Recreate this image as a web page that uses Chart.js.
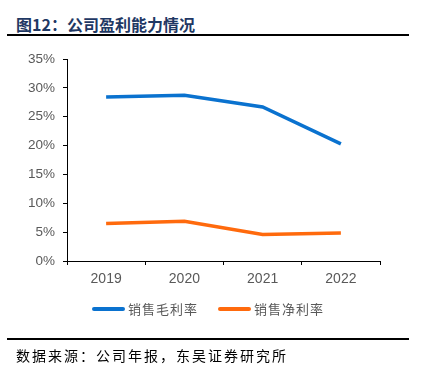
<!DOCTYPE html>
<html>
<head>
<meta charset="utf-8">
<script src="https://cdn.jsdelivr.net/npm/chart.js@4/dist/chart.umd.min.js"></script>
<style>
  html, body { margin: 0; padding: 0; background: #fff; }
  #wrap { position: relative; width: 428px; height: 374px; overflow: hidden; }
  #c { position: absolute; left: 0; top: 0; }
  .title { position: absolute; left: 16px; top: 12px; font: bold 16px "Noto Sans CJK SC", sans-serif; color: #1f3864; line-height: 24px; white-space: nowrap; }
  .rule { position: absolute; left: 7px; width: 402px; background: #000; }
  .legend { position: absolute; top: 299px; font: 13px "Noto Sans CJK SC", sans-serif; color: #595959; letter-spacing: 1px; line-height: 20px; white-space: nowrap; }
  .legend span.sw { display: inline-block; width: 33px; height: 4px; border-radius: 2px; vertical-align: middle; margin-right: 3px; position: relative; top: -1px; }
  .foot { position: absolute; left: 16px; top: 344px; font: 14px "Noto Sans CJK SC", sans-serif; color: #000; letter-spacing: 2px; line-height: 22px; white-space: nowrap; }
</style>
</head>
<body>
<div id="wrap">
  <div class="title">图12：公司盈利能力情况</div>
  <div class="rule" style="top:34px;height:2px;"></div>
  <canvas id="c" width="428" height="374"></canvas>
  <div id="legend"></div>
  <div class="rule" style="top:338px;height:2px;"></div>
  <div class="foot">数据来源：公司年报，东吴证券研究所</div>
</div>
<script>
const years = ["2019", "2020", "2021", "2022"];
const grossMargin = [28.4, 28.7, 26.7, 20.3];
const netMargin = [6.5, 6.9, 4.6, 4.85];
const seriesNames = ["销售毛利率", "销售净利率"];
const seriesColors = ["#0a72cf", "#ff6a0d"];
const yTicks = [0, 5, 10, 15, 20, 25, 30, 35];

const datasets = [grossMargin, netMargin].map((d, i) => ({
  label: seriesNames[i],
  data: d,
  borderColor: seriesColors[i],
  backgroundColor: seriesColors[i],
  borderWidth: 3.5,
  pointRadius: 0,
  tension: 0,
  fill: false
}));

new Chart(document.getElementById('c'), {
  type: 'line',
  data: { labels: years, datasets },
  options: {
    responsive: false,
    animation: false,
    layout: { padding: { top: 59, left: 0, right: 48, bottom: 83 } },
    plugins: { legend: { display: false }, tooltip: { enabled: false } },
    scales: {
      x: {
        offset: true,
        grid: { display: true, offset: true, drawOnChartArea: false, drawTicks: true, tickLength: 4, color: '#000' },
        border: { display: true, color: '#000', width: 1 },
        ticks: { color: '#595959', font: { family: 'Liberation Sans', size: 14 }, padding: 6 },
        afterFit: s => { s.height = 30; }
      },
      y: {
        min: 0, max: 35,
        afterBuildTicks: s => { s.ticks = yTicks.map(v => ({ value: v })); },
        grid: { display: true, drawOnChartArea: false, drawTicks: true, tickLength: 4, color: '#000' },
        border: { display: true, color: '#000', width: 1 },
        ticks: { color: '#595959', font: { family: 'Liberation Sans', size: 13.5 }, padding: 8, callback: v => v + '%' },
        afterFit: s => { s.width = 67; }
      }
    }
  }
});

const legendEl = document.getElementById('legend');
const legendX = [92, 218];
seriesNames.forEach((n, i) => {
  const d = document.createElement('div');
  d.className = 'legend';
  d.style.left = legendX[i] + 'px';
  d.innerHTML = '<span class="sw" style="background:' + seriesColors[i] + '"></span>' + n;
  legendEl.appendChild(d);
});
</script>
</body>
</html>
